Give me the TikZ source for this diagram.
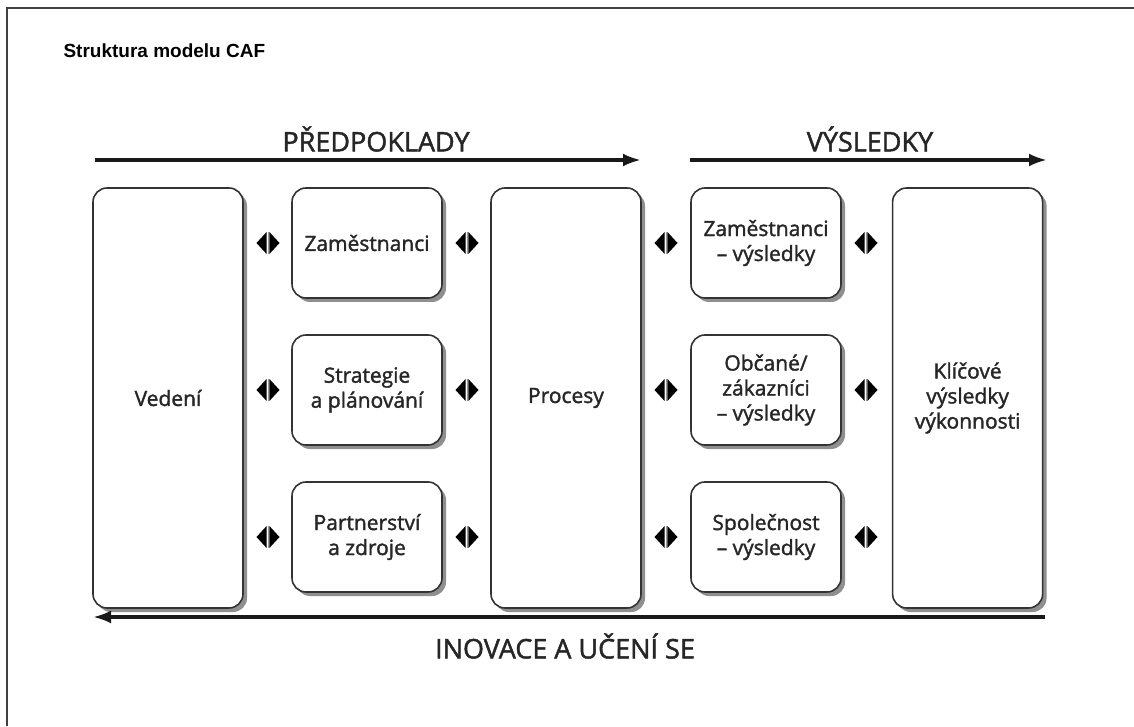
\documentclass[tikz,border=0pt]{standalone}
\usepackage{fontspec}
\setmainfont{Open Sans}
\newfontfamily\titlefont{Liberation Sans}
\newfontfamily\boxfont[FakeBold=1.6]{Open Sans}
\usetikzlibrary{positioning,shadows,arrows.meta}

\tikzset{
  blok/.style={draw=black!80, line width=1.6pt, rounded corners=14pt, fill=white,
    drop shadow={shadow xshift=4pt, shadow yshift=-4pt, fill=black!55, opacity=0.8},
    minimum width=150pt, align=center, text=black!85, inner sep=2pt,
    font=\boxfont\fontsize{21}{25}\selectfont},
  nizky/.style={blok, minimum height=110pt},
  vysoky/.style={blok, minimum height=420pt},
  vymena/.style={minimum width=23pt, minimum height=22pt, inner sep=0pt,
    path picture={
      \fill[black] ([xshift=-1.4pt]path picture bounding box.north) -- (path picture bounding box.west)
        -- ([xshift=-1.4pt]path picture bounding box.south) -- cycle;
      \fill[black] ([xshift=1.4pt]path picture bounding box.north) -- (path picture bounding box.east)
        -- ([xshift=1.4pt]path picture bounding box.south) -- cycle;
      \draw[black!40, line width=1pt] (path picture bounding box.north) -- (path picture bounding box.south);}},
  sipka/.style={line width=3.4pt, black!90, -{Latex[length=18pt,width=13pt]}},
  nadpis/.style={font=\boxfont\fontsize{27}{30}\selectfont, text=black!85},
}

\begin{document}
\begin{tikzpicture}[x=1pt,y=1pt]
	\useasboundingbox (0,0) rectangle (1134,726);
	\draw[black!75, line width=1.4pt] (7,0) -- (7,718) -- (1134,718);
	\node (titul) [anchor=west, font=\titlefont\bfseries\fontsize{19}{22}\selectfont] at (60,675) {Struktura modelu CAF};

	% sloupce
	\node (ved) [vysoky] at (168,328) {Vedení};
	\node (zam) [nizky] at (367,483) {Zaměstnanci};
	\node (str) [nizky] at (367,336) {Strategie\\a plánování};
	\node (par) [nizky] at (367,189) {Partnerství\\a zdroje};
	\node (pro) [vysoky] at (566,328) {Procesy};
	\node (zvy) [nizky] at (766,483) {Zaměstnanci\\– výsledky};
	\node (obc) [nizky] at (766,336) {Občané/\\zákazníci\\– výsledky};
	\node (spo) [nizky] at (766,189) {Společnost\\– výsledky};
	\node (klv) [vysoky, right=50pt of zvy.north east, anchor=north west] {Klíčové\\výsledky\\výkonnosti};

	% vazby
	\node (m11) [vymena] at (268,483) {};
	\node (m12) [vymena] at (268,336) {};
	\node (m13) [vymena] at (268,189) {};
	\node (m21) [vymena] at (467,483) {};
	\node (m22) [vymena] at (467,336) {};
	\node (m23) [vymena] at (467,189) {};
	\node (m31) [vymena] at (666,483) {};
	\node (m32) [vymena] at (666,336) {};
	\node (m33) [vymena] at (666,189) {};
	\node (m41) [vymena] at (866,483) {};
	\node (m42) [vymena] at (866,336) {};
	\node (m43) [vymena] at (866,189) {};

	% sipky
	\coordinate (p1) at (95,566);
	\coordinate (p2) at (641,566);
	\coordinate (v1) at (690,566);
	\coordinate (v2) at (1047,566);
	\coordinate (i1) at (1045,109);
	\coordinate (i2) at (93,109);
	\draw[sipka] (p1) -- (p2);
	\draw[sipka] (v1) -- (v2);
	\draw[sipka] (i1) -- (i2);
	\node (predp) [nadpis] at (376,587) {PŘEDPOKLADY};
	\node (vysl) [nadpis] at (870,587) {VÝSLEDKY};
	\node (inov) [nadpis] at (565,80) {INOVACE A UČENÍ SE};
\end{tikzpicture}
\end{document}
